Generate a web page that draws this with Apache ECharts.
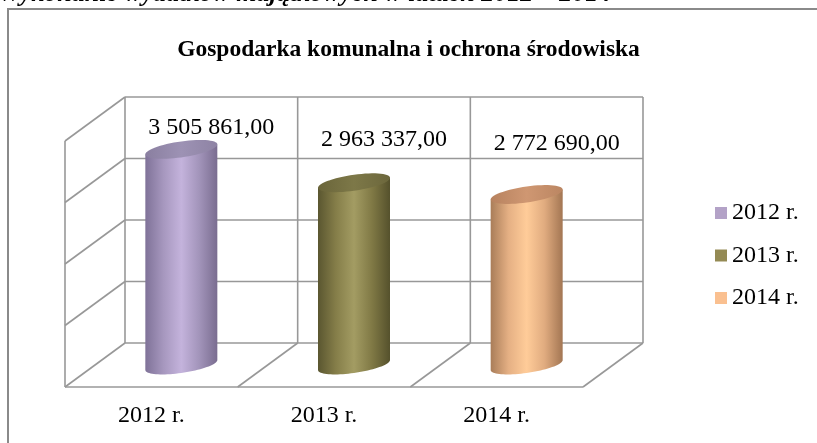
<!DOCTYPE html>
<html>
<head>
<meta charset="utf-8">
<script src="https://cdn.jsdelivr.net/npm/echarts@6/dist/echarts.min.js"></script>
<style>
  html, body { margin: 0; padding: 0; background: #fff; }
  #chart { width: 817px; height: 443px; }
</style>
</head>
<body>
<div id="chart"></div>
<script>
// Categories and values
const years = ['2012 r.', '2013 r.', '2014 r.'];
const values = [3505861.00, 2963337.00, 2772690.00];
const axisMin = 0;
const axisMax = 4000000;
const axisStep = 1000000;

const chartTitle = 'Gospodarka komunalna i ochrona środowiska';
const headingText = 'Wykonanie wydatków majątkowych w latach 2012 – 2014';

// Styling
const SERIF = '"Liberation Serif", "DejaVu Serif", serif';
const legendColors = ['#b3a2c7', '#948a54', '#fac090'];
const bodyStops = [
  ['#7f7298', '#a697be', '#c4b3dc', '#a294ba', '#7a6d90'],
  ['#5a5630', '#857e49', '#a39c63', '#807945', '#55512c'],
  ['#a97d59', '#e5b084', '#ffcc99', '#e0ab7f', '#a37653']
];
const topStops = [
  ['#8a7fa0', '#9d92b4', '#8e83a4'],
  ['#6a653a', '#7d7848', '#6c673c'],
  ['#b7825f', '#cf9772', '#bb8662']
];
const GRID_LINE = '#989898';
// Depth of the 3D box (screen offset from back wall to front edge)
const DX = -60, DY = 44;
const RX = 36;        // cylinder radius
const RY = 8;         // ellipse half height
const SKEW = -5;      // tilt of the ellipses
const labelLift = [0, 21, 29];
const FONT_PX = 24;

function fmt(v) {
  const parts = v.toFixed(2).split('.');
  const intPart = parts[0].replace(/\B(?=(\d{3})+(?!\d))/g, ' ');
  return intPart + ',' + parts[1];
}

function ellipsePoints(cx, cy, from, to, n) {
  const pts = [];
  for (let i = 0; i <= n; i++) {
    const t = from + (to - from) * i / n;
    pts.push([cx + RX * Math.cos(t), cy + RY * Math.sin(t) + SKEW * Math.cos(t)]);
  }
  return pts;
}

function gradient(stops) {
  return {
    type: 'linear', x: 0, y: 0, x2: 1, y2: 0,
    colorStops: stops.map((c, i) => ({ offset: i / (stops.length - 1), color: c }))
  };
}

const tickValues = [];
for (let v = axisMin; v <= axisMax; v += axisStep) tickValues.push(v);

function renderFrame(params, api) {
  const bw = api.size([1, 0])[0];
  const x0 = api.coord([0, 0])[0] - bw / 2;
  const xs = years.map((_, i) => x0 + bw * i).concat([x0 + bw * years.length]);
  const yBot = api.coord([0, axisMin])[1];
  const yTop = api.coord([0, axisMax])[1];
  const ln = (x1, y1, x2, y2) => ({
    type: 'line',
    shape: { x1, y1, x2, y2 },
    style: { stroke: GRID_LINE, lineWidth: 1.6 }
  });
  const children = [];
  tickValues.forEach(v => {
    const y = api.coord([0, v])[1];
    children.push(ln(xs[0], y, xs[xs.length - 1], y));
    children.push(ln(xs[0], y, xs[0] + DX, y + DY));
  });
  xs.forEach(x => children.push(ln(x, yTop, x, yBot)));
  children.push(ln(xs[0] + DX, yTop + DY, xs[0] + DX, yBot + DY));
  children.push(ln(xs[0] + DX, yBot + DY, xs[xs.length - 1] + DX, yBot + DY));
  xs.slice(1).forEach(x => children.push(ln(x, yBot, x + DX, yBot + DY)));
  years.forEach((name, i) => {
    const c = api.coord([i, axisMin]);
    children.push({
      type: 'text',
      style: {
        text: name, x: c[0] + DX, y: c[1] + DY + 29,
        align: 'center', verticalAlign: 'middle',
        font: FONT_PX + 'px ' + SERIF, fill: '#000'
      }
    });
  });
  return { type: 'group', children };
}

function makeCylinder(idx) {
  return function (params, api) {
    const cat = api.value(0);
    const top = api.coord([cat, api.value(1)]);
    const base = api.coord([cat, axisMin]);
    const cx = top[0] + DX / 2;
    const yTop = top[1] + DY / 2;
    const yBot = base[1] + DY / 2;
    const body = [[cx - RX, yTop - SKEW]]
      .concat(ellipsePoints(cx, yBot, Math.PI, 0, 40))
      .concat([[cx + RX, yTop + SKEW]]);
    return {
      type: 'group',
      children: [
        { type: 'polygon', shape: { points: body }, style: { fill: gradient(bodyStops[idx]) } },
        { type: 'polygon', shape: { points: ellipsePoints(cx, yTop, 0, Math.PI * 2, 60) },
          style: { fill: gradient(topStops[idx]) } },
        { type: 'text',
          style: {
            text: fmt(api.value(1)), x: top[0], y: top[1] - labelLift[idx],
            align: 'center', verticalAlign: 'middle',
            font: FONT_PX + 'px ' + SERIF, fill: '#000'
          } }
      ]
    };
  };
}

const chart = echarts.init(document.getElementById('chart'), null, { renderer: 'canvas' });

const series = [{
  type: 'custom', name: 'frame', silent: true, z: 1,
  data: [[0, 0]], renderItem: renderFrame
}].concat(years.map((name, i) => ({
  type: 'custom', name, z: 2,
  itemStyle: { color: legendColors[i] },
  data: [[i, values[i]]],
  renderItem: makeCylinder(i)
})));

chart.setOption({
  animation: false,
  backgroundColor: '#fff',
  title: {
    text: chartTitle, left: 'center', top: 33,
    textStyle: { fontFamily: SERIF, fontWeight: 'bold', fontSize: 23.5, color: '#000' }
  },
  graphic: [
    { type: 'rect', shape: { x: 8, y: 9, width: 900, height: 500 },
      style: { fill: 'none', stroke: '#8a8a8a', lineWidth: 2 }, z: 0 },
    { type: 'text', left: -2, top: -19,
      style: { text: headingText, font: 'italic bold 26px ' + SERIF, fill: '#000' } }
  ],
  legend: {
    data: years, orient: 'vertical', left: 715, top: 201, padding: 0,
    icon: 'rect', itemWidth: 12, itemHeight: 12, itemGap: 18.5,
    textStyle: { fontFamily: SERIF, fontSize: FONT_PX, color: '#000', lineHeight: 24 }
  },
  grid: { left: 125, right: 174, top: 97, bottom: 100 },
  xAxis: { type: 'category', data: years, show: false },
  yAxis: { type: 'value', min: axisMin, max: axisMax, interval: axisStep, show: false },
  series
});
</script>
</body>
</html>
